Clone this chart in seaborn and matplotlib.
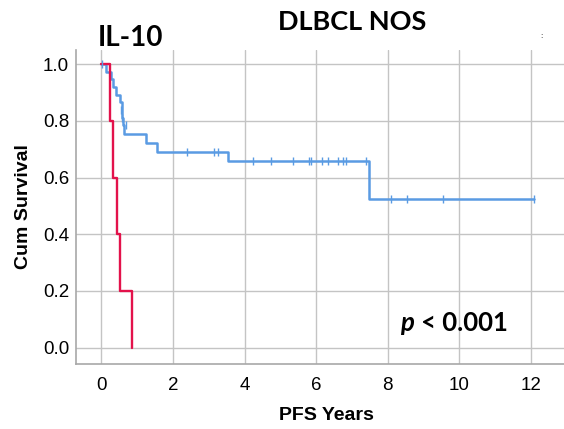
import matplotlib
matplotlib.use("Agg")
import matplotlib.pyplot as plt
import seaborn as sns
import pandas as pd

# Kaplan-Meier step data (time in years, survival after step)
blue_time = [0.0, 0.13, 0.27, 0.33, 0.41, 0.52, 0.56, 0.58, 0.60, 0.64, 1.24, 1.56, 3.55, 7.49, 12.1]
blue_surv = [1.0, 0.973, 0.946, 0.919, 0.892, 0.865, 0.838, 0.811, 0.784, 0.752, 0.721, 0.692, 0.659, 0.526, 0.526]
red_time = [0.0, 0.24, 0.31, 0.42, 0.53, 0.86]
red_surv = [1.0, 0.8, 0.6, 0.4, 0.2, 0.0]

# censored observations
cens_time = [0.02, 0.55, 0.57, 0.68, 2.38, 3.16, 3.27, 4.23, 4.73, 5.35, 5.81, 5.85, 6.17, 6.33,
             6.61, 6.75, 6.83, 7.40, 8.09, 8.55, 9.56, 12.1]
cens_surv = [1.0, 0.838, 0.811, 0.784, 0.692, 0.692, 0.692, 0.659, 0.659, 0.659, 0.659, 0.659, 0.659, 0.659,
             0.659, 0.659, 0.659, 0.659, 0.526, 0.526, 0.526, 0.526]

x_ticks = [0, 2, 4, 6, 8, 10, 12]
y_ticks = [0.0, 0.2, 0.4, 0.6, 0.8, 1.0]

sns.set_theme(style="white")
plt.rcParams['font.family'] = ['Liberation Sans', 'DejaVu Sans']
plt.rcParams['text.color'] = 'black'
plt.rcParams['axes.labelcolor'] = 'black'

BLUE = "#5a9be3"
RED = "#e3124b"

fig = plt.figure(figsize=(5.64, 4.29), dpi=100)
ax = fig.add_axes([76 / 564, 1 - 364 / 429, (576 - 76) / 564, (364 - 50) / 429])

blue_df = pd.DataFrame({"time": blue_time, "surv": blue_surv})
red_df = pd.DataFrame({"time": red_time, "surv": red_surv})
cens_df = pd.DataFrame({"time": cens_time, "surv": cens_surv})

sns.lineplot(data=blue_df, x="time", y="surv", ax=ax, color=BLUE, lw=1.8,
             drawstyle="steps-post", estimator=None, sort=False, zorder=3)
sns.lineplot(data=red_df, x="time", y="surv", ax=ax, color=RED, lw=1.7,
             drawstyle="steps-post", estimator=None, sort=False, zorder=4)
sns.scatterplot(data=cens_df, x="time", y="surv", ax=ax, marker="|", s=40,
                color=BLUE, linewidth=1.0, zorder=5)

ax.set_xlim(-0.713, 13.27)
ax.set_ylim(-0.0575, 1.050)
ax.set_xticks(x_ticks)
ax.set_xticklabels([str(t) for t in x_ticks])
ax.set_yticks(y_ticks)
ax.set_yticklabels([f"{t:.1f}" for t in y_ticks])
ax.grid(True, color="#c4c4c4", lw=1.0)
ax.set_axisbelow(True)
for s in ["top", "right"]:
    ax.spines[s].set_visible(False)
for s in ["left", "bottom"]:
    ax.spines[s].set_color("#a8a8a8")
    ax.spines[s].set_linewidth(1.2)
ax.tick_params(axis="both", length=0, labelsize=13.5, colors="black")
ax.tick_params(axis="x", pad=9)
ax.tick_params(axis="y", pad=5)

ax.set_xlabel("PFS Years", fontsize=14, fontweight="bold", labelpad=10)
ax.set_ylabel("Cum Survival", fontsize=14, fontweight="bold", labelpad=8)

fig.text(130 / 564, 1 - 38 / 429, "IL-10", fontsize=20, fontweight="bold",
         family=["Lato", "DejaVu Sans"], ha="center", va="center")
fig.text(352 / 564, 1 - 22 / 429, "DLBCL NOS", fontsize=19.5, fontweight="bold",
         family=["Lato", "DejaVu Sans"], ha="center", va="center")
fig.text(400 / 564, 1 - 323 / 429, "p", fontsize=18.5, fontweight="bold", style="italic",
         family=["Lato", "DejaVu Sans"], ha="left", va="center")
fig.text(421 / 564, 1 - 323 / 429, "< 0.001", fontsize=18.5, fontweight="bold",
         family=["Lato", "DejaVu Sans"], ha="left", va="center")
fig.text(541 / 564, 1 - 37 / 429, ":", fontsize=6, color="black", ha="center", va="center")

fig.savefig("out.png", dpi=100)
